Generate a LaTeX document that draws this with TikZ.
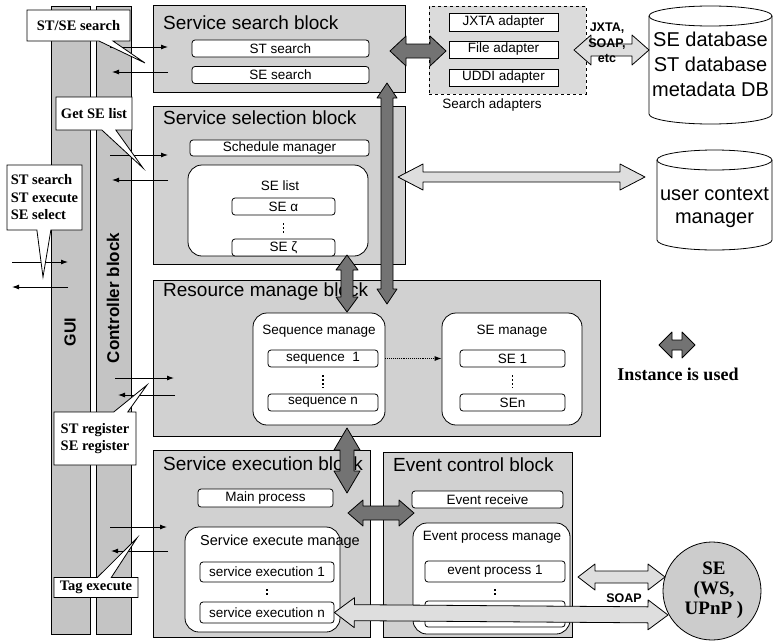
\documentclass[tikz,border=0pt]{standalone}
\usepackage{fontspec}
\setmainfont{Liberation Serif}
\setsansfont{Liberation Sans}
\usetikzlibrary{calc,shapes.callouts,arrows.meta}
\definecolor{blockfill}{gray}{0.82}
\definecolor{colfill}{gray}{0.77}
\definecolor{darkarr}{gray}{0.45}
\definecolor{lightarr}{gray}{0.87}
\definecolor{circfill}{gray}{0.80}
\definecolor{adfill}{gray}{0.86}
\newcommand{\fatarrow}[6]{%
  \coordinate (faP) at ($(#2)!#4!(#3)$);
  \coordinate (faQ) at ($(#3)!#4!(#2)$);
  \draw[#1] (#2) -- ($(faP)!#6!90:(#3)$) -- ($(faP)!#5!90:(#3)$)
    -- ($(faQ)!#5!-90:(#2)$) -- ($(faQ)!#6!-90:(#2)$) -- (#3)
    -- ($(faQ)!#6!90:(#2)$) -- ($(faQ)!#5!90:(#2)$)
    -- ($(faP)!#5!-90:(#3)$) -- ($(faP)!#6!-90:(#3)$) -- cycle;}
\begin{document}
\begin{tikzpicture}[x=1pt,y=-1pt,
  col/.style={draw, fill=colfill, line width=0.8pt, inner sep=0},
  blk/.style={draw, fill=blockfill, line width=0.8pt, inner sep=0},
  ttl/.style={anchor=west, inner sep=0, font=\sffamily\fontsize{19}{21}\selectfont},
  ibox/.style={draw, fill=white, rounded corners=3pt, line width=0.8pt, inner sep=0,
    font=\sffamily\fontsize{13.5}{15}\selectfont},
  abox/.style={draw, fill=white, line width=0.8pt, inner sep=0,
    font=\sffamily\fontsize{13.5}{15}\selectfont},
  cont/.style={draw, fill=white, rounded corners=14pt, line width=0.8pt, inner sep=0},
  ctl/.style={inner sep=0, font=\sffamily\fontsize{13.5}{15}\selectfont},
  vdots/.style={line width=1.4pt, dash pattern=on 1.4pt off 2.6pt},
  thin/.style={line width=0.9pt, -{Latex[length=7pt,width=5pt]}},
  call/.style={rectangle callout, draw, fill=white, line width=0.8pt, inner sep=3pt,
    callout pointer width=14pt, align=left,
    font=\rmfamily\bfseries\fontsize{14.5}{17.5}\selectfont},
  darkA/.style={draw, fill=darkarr, line width=0.8pt, line join=round},
  lightA/.style={draw, fill=lightarr, line width=0.8pt, line join=round},
  cyl/.style={draw, line width=0.8pt},
  dbt/.style={align=center, inner sep=0, font=\sffamily\fontsize{20}{25}\selectfont}]
\useasboundingbox (0,0) rectangle (776,640);

% side columns
\node[col, minimum width=39pt, minimum height=628pt] (gui) at (70.5,320) {};
\node[col, minimum width=35pt, minimum height=628pt] (ctrl) at (113.5,320) {};
\node[rotate=90, inner sep=0, font=\sffamily\bfseries\fontsize{16}{18}\selectfont] (guit) at (70,332) {GUI};
\node[rotate=90, inner sep=0, font=\sffamily\bfseries\fontsize{17}{19}\selectfont] (ctrlt) at (113,298) {Controller block};

% service search block
\node[blk, minimum width=252pt, minimum height=87pt] (sb) at (279,48.5) {};
\node[ttl] (sbt) at (163,23) {Service search block};
\node[ibox, minimum width=177pt, minimum height=17pt] (sts) at (280.5,48.5) {ST search};
\node[ibox, minimum width=177pt, minimum height=17pt] (ses) at (280.5,75) {SE search};

% search adapters
\node[draw, dashed, fill=adfill, line width=0.8pt, minimum width=157pt, minimum height=88pt, inner sep=0] (ad) at (507.5,50) {};
\node[abox, minimum width=109pt, minimum height=18pt] (jx) at (503.5,22) {JXTA adapter};
\node[abox, minimum width=109pt, minimum height=17pt] (fa) at (503.5,49.5) {File adapter};
\node[abox, minimum width=109pt, minimum height=17pt] (ua) at (503.5,77.5) {UDDI adapter};
\node[inner sep=0, font=\sffamily\fontsize{13.5}{15}\selectfont] (adt) at (492,105) {Search adapters};

% service selection block
\node[blk, minimum width=252pt, minimum height=158pt] (sel) at (279,185) {};
\node[ttl] (selt) at (163,118) {Service selection block};
\node[ibox, minimum width=179pt, minimum height=16pt] (sch) at (279.5,148) {Schedule manager};
\node[cont, minimum width=180pt, minimum height=91pt] (sel) at (278,210.5) {};
\node[ctl] (selt2) at (280,186) {SE list};
\node[ibox, minimum width=103pt, minimum height=17pt] (sea) at (283.5,206.5) {SE α};
\node[ibox, minimum width=103pt, minimum height=17pt] (sez) at (283.5,247.5) {SE ζ};
\draw[vdots] ($(sea.south)+(0,8)$) -- ($(sez.north)+(0,-6)$);

% resource manage block
\node[blk, minimum width=447pt, minimum height=156pt] (res) at (376.5,358) {};
\node[ttl] (rest) at (163,292) {Resource manage block};
\node[cont, minimum width=132pt, minimum height=112pt] (seqm) at (319,369) {};
\node[ctl] (seqmt) at (319,331) {Sequence manage};
\node[ibox, minimum width=110pt, minimum height=17pt] (seq1) at (323,358.5) {sequence\ \ 1};
\node[ibox, minimum width=110pt, minimum height=17pt] (seqn) at (323,402.5) {sequence n};
\draw[vdots] ($(seq1.south)+(0,8)$) -- ($(seqn.north)+(0,-6)$);
\node[cont, minimum width=140pt, minimum height=112pt] (sem) at (512,369) {};
\node[ctl] (semt) at (512,331) {SE manage};
\node[ibox, minimum width=105pt, minimum height=17pt] (se1) at (512.5,358.5) {SE 1};
\node[ibox, minimum width=105pt, minimum height=17pt] (sen) at (512.5,402.5) {SEn};
\draw[vdots] ($(se1.south)+(0,8)$) -- ($(sen.north)+(0,-6)$);
\draw[line width=0.9pt, densely dotted, -{Latex[length=7pt,width=5pt]}] (seqm.east |- seq1.center) -- (sem.west |- seq1.center);

% service execution block
\node[blk, minimum width=217pt, minimum height=187pt] (ex) at (261.5,543.5) {};
\node[ttl] (ext) at (163,464) {Service execution block};
\node[ibox, minimum width=135pt, minimum height=18pt] (mp) at (265.5,498) {Main process};
\node[cont, minimum width=155pt, minimum height=105pt] (sxm) at (262.5,579.5) {};
\node[ctl, font=\sffamily\fontsize{14.5}{16}\selectfont] (sxmt) at (280,542) {Service execute manage};
\node[ibox, minimum width=134pt, minimum height=20pt] (sx1) at (267,572) {service execution 1};
\node[ibox, minimum width=134pt, minimum height=21pt] (sxn) at (267,612.5) {service execution n};
\draw[vdots] ($(sx1.south)+(0,7)$) -- ($(sxn.north)+(0,-5)$);

% event control block
\node[blk, minimum width=189pt, minimum height=185pt] (ev) at (477.5,544.5) {};
\node[ttl] (evt) at (393,465) {Event control block};
\node[ibox, minimum width=151pt, minimum height=17pt] (evr) at (487.5,499.5) {Event receive};
\node[cont, minimum width=157pt, minimum height=111pt] (epm) at (491.5,578.5) {};
\node[ctl] (epmt) at (492,537) {Event process manage};
\node[ibox, minimum width=140pt, minimum height=21pt] (ep1) at (495,571.5) {event process 1};
\node[ibox, minimum width=140pt, minimum height=26pt] (epn) at (495,614) {};
\draw[vdots] ($(ep1.south)+(0,7)$) -- ($(epn.north)+(0,-4)$);

% databases
\draw[cyl, fill=white] (649,16) -- (649,114) arc[start angle=180,end angle=360,x radius=61.5pt,y radius=10pt] -- (772,16);
\draw[cyl] (710.5,16) ellipse[x radius=61.5pt, y radius=10pt];
\node[dbt] (db) at (710.5,64) {SE database\\ST database\\metadata DB};
\draw[cyl, fill=white] (657,160) -- (657,240) arc[start angle=180,end angle=360,x radius=57.5pt,y radius=10pt] -- (772,160);
\draw[cyl] (714.5,160) ellipse[x radius=57.5pt, y radius=10pt];
\node[dbt, font=\sffamily\fontsize{20}{23}\selectfont] (uc) at (714.5,208) {user context\\manager};

% SE circle
\node[circle, draw, fill=circfill, line width=0.8pt, minimum size=98pt, inner sep=0] (se) at (712,591) {};
\node[align=center, inner sep=0, font=\rmfamily\bfseries\fontsize{19}{20}\selectfont] (set) at (714,590) {SE\\(WS,\\UPnP )};

% thin GUI / controller arrows
\coordinate (a1s) at (110,47);  \coordinate (a1e) at (168,47);
\coordinate (b1s) at (168,72);  \coordinate (b1e) at (112,72);
\coordinate (a2s) at (110,155); \coordinate (a2e) at (168,155);
\coordinate (b2s) at (168,180); \coordinate (b2e) at (112,180);
\coordinate (a3s) at (12,262);  \coordinate (a3e) at (68,262);
\coordinate (b3s) at (68,287);  \coordinate (b3e) at (12,287);
\coordinate (a4s) at (115,378); \coordinate (a4e) at (174,378);
\coordinate (b4s) at (175,395); \coordinate (b4e) at (118,395);
\coordinate (a5s) at (110,527); \coordinate (a5e) at (167,527);
\coordinate (b5s) at (168,551); \coordinate (b5e) at (111,551);
\foreach \i in {1,...,5} {
  \draw[thin] (a\i s) -- (a\i e);
  \draw[thin] (b\i s) -- (b\i e);
}

% callouts
\node[call, callout absolute pointer={(145,63)}, minimum width=103pt, minimum height=31pt] (c1) at (78.5,25.5) {ST/SE search};
\node[call, callout absolute pointer={(143,168)}, minimum width=76pt, minimum height=33pt] (c2) at (94,113.5) {Get SE list};
\node[call, callout absolute pointer={(43,277)}, minimum width=75pt, minimum height=65pt] (c3) at (44.5,197.5) {ST search\\ST execute\\SE select};
\node[call, callout absolute pointer={(147,385)}, minimum width=82pt, minimum height=53pt] (c4) at (95,438.5) {ST register\\SE register};
\node[call, callout absolute pointer={(137,538)}, minimum width=84pt, minimum height=20pt] (c5) at (96,587.5) {Tag execute};

% fat arrows
\coordinate (dA1) at (390,51);  \coordinate (dA2) at (446,51);
\coordinate (vA1) at (387,83);  \coordinate (vA2) at (387,304);
\coordinate (sA1) at (347,255); \coordinate (sA2) at (347,312);
\coordinate (rA1) at (347,428); \coordinate (rA2) at (347,493);
\coordinate (eA1) at (348,513); \coordinate (eA2) at (414,513);
\coordinate (uA1) at (398,177); \coordinate (uA2) at (645,177);
\coordinate (jA1) at (574,50);  \coordinate (jA2) at (649,50);
\coordinate (pA1) at (578,577); \coordinate (pA2) at (665,577);
\coordinate (lA2) at (668,615);
\coordinate (gA1) at (659,345); \coordinate (gA2) at (695,345);
\fatarrow{darkA}{dA1}{dA2}{16pt}{7pt}{15pt}
\fatarrow{darkA}{vA1}{vA2}{15pt}{6pt}{10pt}
\fatarrow{darkA}{sA1}{sA2}{15pt}{6pt}{11pt}
\fatarrow{darkA}{rA1}{rA2}{22pt}{7pt}{13pt}
\fatarrow{darkA}{eA1}{eA2}{15pt}{7pt}{13pt}
\fatarrow{lightA}{uA1}{uA2}{25pt}{5pt}{13pt}
\fatarrow{lightA}{jA1}{jA2}{17pt}{6pt}{15pt}
\fatarrow{lightA}{pA1}{pA2}{17pt}{6pt}{13pt}
\fatarrow{lightA}{sxn.east}{lA2}{20pt}{8pt}{15pt}
\fatarrow{darkA}{gA1}{gA2}{13pt}{5pt}{13pt}

% labels
\node[align=center, inner sep=0, font=\sffamily\bfseries\fontsize{12.5}{15.5}\selectfont] (jxl) at (607,43) {JXTA,\\SOAP,\\etc};
\node[fill=white, inner sep=2pt, font=\sffamily\bfseries\fontsize{12.5}{14}\selectfont] (soap) at (624,598) {SOAP};
\node[inner sep=0, font=\rmfamily\bfseries\fontsize{18}{20}\selectfont] (leg) at (678,374) {Instance is used};
\end{tikzpicture}
\end{document}
